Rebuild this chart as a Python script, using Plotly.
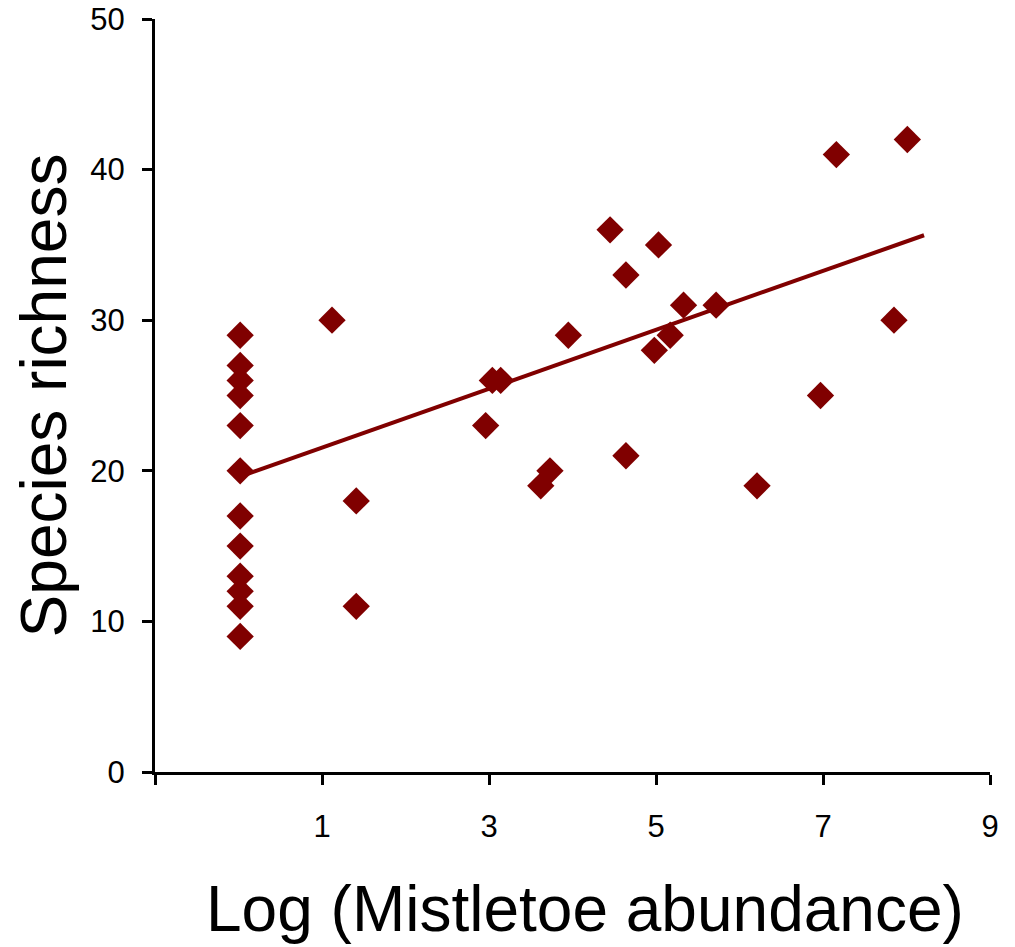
import plotly.graph_objects as go

# Data
log_mistletoe = [0.02] * 12 + [
    1.12, 1.41, 1.41, 2.96, 3.04, 3.14, 3.62, 3.73, 3.95, 4.45, 4.64,
    4.64, 4.98, 5.03, 5.17, 5.33, 5.72, 6.21, 6.97, 7.16, 7.85, 8.01,
]
species_richness = [29, 27, 26, 25, 23, 20, 17, 15, 13, 12, 11, 9] + [
    30, 18, 11, 23, 26, 26, 19, 20, 29, 36, 33,
    21, 28, 35, 29, 31, 31, 19, 25, 41, 30, 42,
]
trend_x = [0.02, 8.21]
trend_y = [19.62, 35.64]

x_tickvals = [-1, 1, 3, 5, 7, 9]
x_ticktext = ["", "1", "3", "5", "7", "9"]
y_tickvals = [0, 10, 20, 30, 40, 50]

color = "#800000"
font_family = "Liberation Sans, Arial, sans-serif"

fig = go.Figure()
fig.add_trace(go.Scatter(
    x=log_mistletoe, y=species_richness, mode="markers",
    marker=dict(symbol="diamond", size=21, color=color, line=dict(width=0)),
    showlegend=False, hoverinfo="x+y",
))
fig.add_trace(go.Scatter(
    x=trend_x, y=trend_y, mode="lines",
    line=dict(color=color, width=4),
    showlegend=False,
))

fig.update_layout(
    width=1015, height=947,
    margin=dict(l=147, r=33, t=11, b=183),
    paper_bgcolor="white", plot_bgcolor="white",
    font=dict(family=font_family, color="black", size=31),
    xaxis=dict(
        range=[-1, 9], tickvals=x_tickvals, ticktext=x_ticktext,
        showline=True, linecolor="black", linewidth=3,
        ticks="outside", ticklen=10, tickwidth=3, tickcolor="black",
        showgrid=False, zeroline=False, automargin=False,
        ticklabelstandoff=15, ticklabeloverflow="allow",
        tickfont=dict(size=31),
    ),
    yaxis=dict(
        range=[0, 50], tickvals=y_tickvals,
        showline=True, linecolor="black", linewidth=3,
        ticks="outside", ticklen=10, tickwidth=3, tickcolor="black",
        showgrid=False, zeroline=False, automargin=False,
        ticklabelstandoff=11, ticklabeloverflow="allow",
        tickfont=dict(size=31),
        title=dict(text="Species richness", font=dict(size=64), standoff=5),
    ),
    annotations=[dict(
        text="Log (Mistletoe abundance)", font=dict(size=64),
        xref="paper", yref="paper", x=0.5, y=0, xanchor="center", yanchor="top",
        xshift=12, yshift=-99, showarrow=False,
    )],
)

fig.write_html("out.html")
